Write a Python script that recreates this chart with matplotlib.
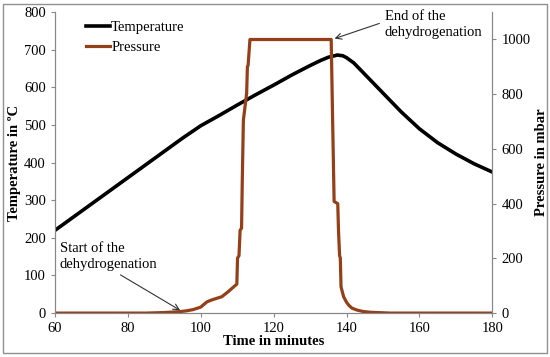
import matplotlib.pyplot as plt
from matplotlib.patches import Rectangle

plt.rcParams['font.family'] = ['Liberation Serif', 'DejaVu Serif']

# temperature curve (left axis, degC)
t_time = [60, 65, 70, 75, 80, 85, 90, 95, 100, 105, 110, 115, 120, 125, 130,
          133, 135, 137.5, 139, 140, 142, 144, 147, 150, 155, 160, 165, 170, 175, 180]
t_temp = [220, 255, 290, 325, 360, 395, 430, 465, 498, 525, 553, 580, 606, 633, 658,
          672, 680, 686, 684, 679, 665, 645, 615, 585, 535, 490, 453, 423, 397, 375]

# pressure curve (right axis, mbar)
p_time = [60, 85, 90, 94, 96, 98, 100, 101.7, 103, 105.8, 107.5, 109.9, 110.1, 110.5,
          110.8, 111.2, 111.4, 111.7, 112.6, 112.8, 113.0, 113.5, 113.6,
          135.8, 136.2, 136.6, 137.6, 137.8, 138.1, 138.3, 138.5, 139.2, 140.0,
          140.6, 141.5, 142.9, 144.5, 146.5, 150.2, 152, 180]
p_press = [0, 0, 2, 5, 8, 13, 22, 41, 48, 60, 78, 106, 201, 210, 303, 310, 486, 705,
           804, 900, 906, 1000, 1000,
           1000, 700, 408, 400, 304, 210, 201, 96, 60, 40,
           29, 18, 11, 6, 3, 1, 0, 0]

fig, ax1 = plt.subplots(figsize=(5.5, 3.57), dpi=100)
fig.subplots_adjust(left=0.1, right=0.895, top=0.966, bottom=0.123)

fig.patches.append(Rectangle((0.006, 0.011), 0.988, 0.978, transform=fig.transFigure,
                             fill=False, edgecolor='#909090', linewidth=1))

ax2 = ax1.twinx()

l1, = ax1.plot(t_time, t_temp, color='black', linewidth=2.6, label='Temperature')
l2, = ax2.plot(p_time, p_press, color='#933F1A', linewidth=2.3, label='Pressure')

ax1.set_xlim(60, 180)
ax1.set_ylim(0, 800)
ax2.set_ylim(0, 1100)
ax1.set_xticks(range(60, 181, 20))
ax1.set_yticks(range(0, 801, 100))
ax2.set_yticks(range(0, 1001, 200))

for ax in (ax1, ax2):
    ax.spines['top'].set_visible(False)
    for s in ('left', 'right', 'bottom'):
        ax.spines[s].set_color('#888888')
    ax.tick_params(colors='#888888', labelcolor='black', labelsize=10.5, length=3)

ax1.set_xlabel('Time in minutes', fontsize=10.5, fontweight='bold', labelpad=0)
ax1.set_ylabel('Temperature in ºC', fontsize=10.5, fontweight='bold', labelpad=2)
ax2.set_ylabel('Pressure in mbar', fontsize=10.5, fontweight='bold', labelpad=3,
               rotation=90)

ax1.legend(handles=[l1, l2], loc='upper left', bbox_to_anchor=(0.04, 1.015), frameon=False,
           fontsize=10.5, handlelength=1.7, handletextpad=0.05, labelspacing=0.45)

ax2.annotate('End of the\ndehydrogenation', xy=(136, 1000), xytext=(150.5, 1055),
             fontsize=10.5, va='center', ha='left', linespacing=1.25,
             arrowprops=dict(arrowstyle='->', color='#333333', linewidth=0.8,
                             relpos=(0, 0.6)))
ax2.annotate('Start of the\ndehydrogenation', xy=(95, 5), xytext=(61.3, 207),
             fontsize=10.5, va='center', ha='left', linespacing=1.25,
             arrowprops=dict(arrowstyle='->', color='#333333', linewidth=0.8,
                             relpos=(0.55, 0)))

plt.savefig('out.png')
